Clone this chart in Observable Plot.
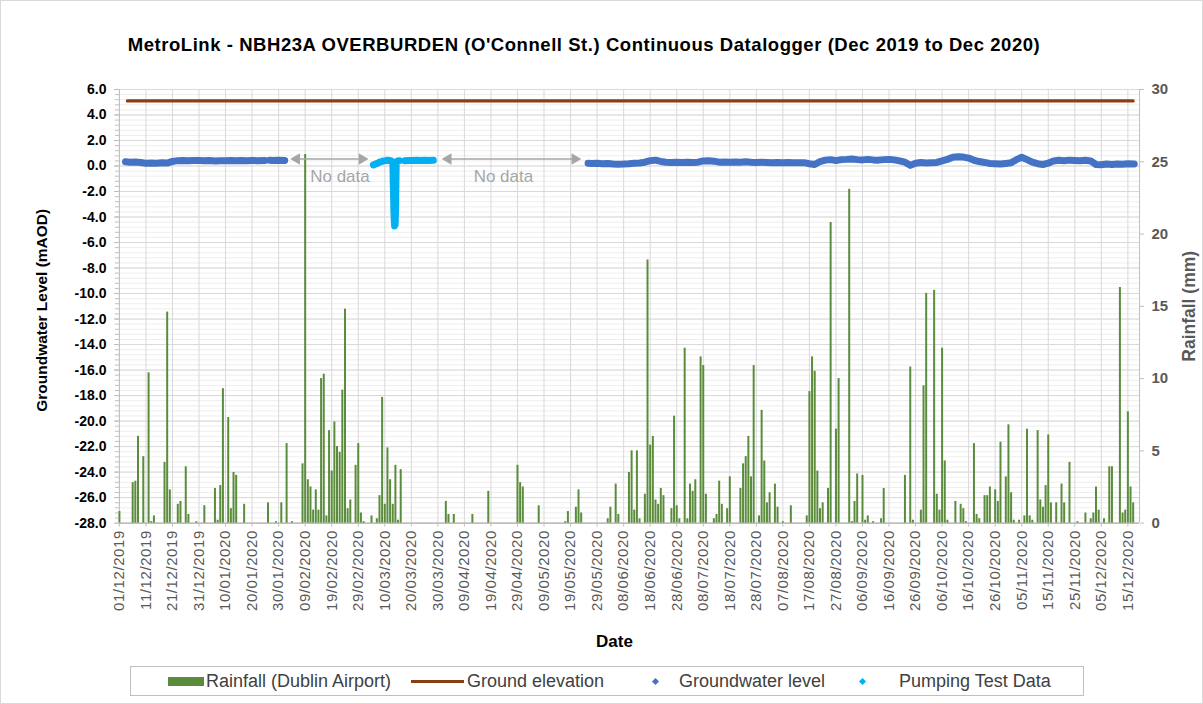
<!DOCTYPE html>
<html>
<head>
<meta charset="utf-8">
<script src="https://cdn.jsdelivr.net/npm/d3@7"></script>
<script src="https://cdn.jsdelivr.net/npm/@observablehq/plot@0.6"></script>
<style>
  body { margin: 0; background: #fff; font-family: "Liberation Sans", Arial, sans-serif; }
  #wrap { position: relative; width: 1201px; height: 702px; border: 1px solid #d9d9d9; overflow: hidden; background: #fff; }
  #title { position: absolute; left: 0; top: 33px; width: 1166px; text-align: center; font-weight: bold; font-size: 18.5px; letter-spacing: 0.55px; color: #000; white-space: nowrap; }
  #chart { position: absolute; left: -1px; top: 69px; }
  #legend { position: absolute; left: 129px; top: 665px; width: 952px; height: 28px; border: 1px solid #bfbfbf; font-size: 18px; color: #404040; }
  .li { position: absolute; top: 4px; white-space: nowrap; line-height: 20px; }
  .sw { position: absolute; }
  [aria-label="x-axis tick label"] text { letter-spacing: 0.6px; }
</style>
</head>
<body>
<div id="wrap">
  <div id="title">MetroLink - NBH23A OVERBURDEN (O'Connell St.) Continuous Datalogger (Dec 2019 to Dec 2020)</div>
  <div id="chart"></div>
  <div id="legend"></div>
</div>
<script>
// ---------------- DATA ----------------
// Day offsets are days since 01/12/2019
const startDate = "2019-12-01";

// X-axis tick labels (every 10 days)
const xTickLabels = ["01/12/2019","11/12/2019","21/12/2019","31/12/2019","10/01/2020","20/01/2020","30/01/2020",
  "09/02/2020","19/02/2020","29/02/2020","10/03/2020","20/03/2020","30/03/2020","09/04/2020","19/04/2020",
  "29/04/2020","09/05/2020","19/05/2020","29/05/2020","08/06/2020","18/06/2020","28/06/2020","08/07/2020",
  "18/07/2020","28/07/2020","07/08/2020","17/08/2020","27/08/2020","06/09/2020","16/09/2020","26/09/2020",
  "06/10/2020","16/10/2020","26/10/2020","05/11/2020","15/11/2020","25/11/2020","05/12/2020","15/12/2020"];

// Left axis ticks (Groundwater Level, mAOD) and right axis ticks (Rainfall, mm)
const levelTicks = [-28,-26,-24,-22,-20,-18,-16,-14,-12,-10,-8,-6,-4,-2,0,2,4,6];
const rainTicks = [0,5,10,15,20,25,30];

// Daily rainfall, Dublin Airport: [day offset, mm]
const rainfall = [
  [0,0.8],[5,2.8],[6,2.9],[7,6.0],[9,4.6],[11,10.4],[12,0.1],[13,0.5],[17,4.2],[18,14.6],[19,2.3],[22,1.3],[23,1.5],
  [25,3.9],[26,0.6],[29,0.1],[32,1.2],[36,2.4],[37,0.2],[38,2.6],[39,9.3],[41,7.3],[42,1.0],[43,3.5],[44,3.3],[47,1.3],
  [56,1.4],[59,0.1],[61,1.4],[63,5.5],[65,0.1],[69,4.1],[70,25.5],[71,3.0],[72,2.5],[73,0.9],[74,2.3],[75,0.9],
  [76,10.0],[77,10.3],[78,0.5],[79,6.4],[80,3.6],[81,7.0],[82,5.3],[83,4.9],[84,9.2],[85,14.8],[86,1.0],[87,1.6],
  [89,4.0],[90,5.5],[91,0.7],[92,0.1],[95,0.5],[97,0.3],[98,1.9],[99,8.7],[100,1.3],[101,5.2],[102,3.0],[103,1.3],
  [104,4.0],[105,0.2],[106,3.7],
  [123,1.5],[124,0.6],[126,0.6],[133,0.6],[139,2.2],[150,4.0],[151,2.8],[152,2.5],[158,1.2],
  [168,0.1],[169,0.8],[172,1.1],[173,2.3],[174,0.7],[184,0.3],[185,1.1],[187,2.7],[188,0.6],[192,3.5],[193,5.0],
  [194,0.9],[195,5.0],[196,0.3],[198,2.0],[199,18.2],[200,5.4],[201,6.0],[202,1.6],[203,1.3],[204,2.4],[205,1.9],
  [208,1.0],[209,7.4],[210,1.2],[211,0.3],[213,12.1],[214,0.3],[215,2.7],[216,2.2],[217,3.0],
  [219,11.5],[220,10.9],[221,2.0],[224,0.3],[225,0.6],[226,2.9],[227,1.3],[229,1.0],[230,3.2],[234,2.4],[235,4.1],
  [236,4.6],[237,6.0],[238,3.2],[239,10.9],[241,0.5],[242,7.8],[243,4.3],[244,1.4],[245,2.1],[247,2.7],[248,1.1],
  [250,0.1],[253,1.2],[259,0.5],[260,9.1],[261,11.5],[262,10.5],[263,3.6],[264,1.0],[265,1.4],[267,2.4],[268,20.8],
  [270,6.5],[271,10.0],
  [275,23.1],[276,0.1],[277,1.5],[278,3.4],[280,3.3],[281,0.2],[282,0.5],[284,0.1],[287,0.3],[288,2.4],[296,3.3],
  [298,10.8],[299,0.2],[302,0.9],[303,9.5],[304,15.9],[307,16.1],[308,2.0],[309,0.9],[310,12.1],[311,4.3],[312,0.2],
  [315,1.5],[317,1.3],[318,1.0],[319,0.1],[322,5.5],[323,0.6],[324,0.3],[326,1.9],
  [327,1.9],[328,2.5],[330,2.3],[331,1.5],[332,5.6],[334,3.2],[335,6.8],[336,2.1],[337,0.2],[339,0.2],[341,0.5],
  [342,6.5],[343,0.5],[344,0.2],[346,6.4],[347,1.6],[348,1.1],[349,2.6],[350,6.1],[351,1.4],[353,1.4],[355,2.7],
  [356,1.4],[358,4.2],[361,0.1],[364,0.7],[366,0.3],[367,0.7],[368,2.5],[369,0.9],[371,0.3],[373,3.9],[374,3.9],
  [377,16.3],[378,0.7],[379,0.9],[380,7.7],[381,2.5],[382,1.4]
];

// Ground elevation (mAOD) over the logger period
const groundElevation = 5.1;
const groundDays = [3, 382];

// Groundwater level (mAOD): [day offset, level], three logged stretches
const gwStretchA = [[2.3,0.33],[4,0.30],[6,0.32],[8,0.28],[10,0.22],[12,0.24],[14,0.22],[16,0.26],[18,0.23],[20,0.36],
  [22,0.42],[24,0.43],[26,0.42],[28,0.44],[30,0.43],[32,0.42],[34,0.44],[36,0.40],[38,0.42],[40,0.41],[42,0.43],
  [44,0.42],[46,0.44],[48,0.42],[50,0.43],[52,0.42],[54.8,0.44]];
const gwStretchB = [[56.6,0.45],[58,0.44],[60,0.45],[62.3,0.44]];
const gwStretchC = [[176.6,0.22],[178,0.20],[180,0.22],[182,0.18],[184,0.20],[186,0.16],[188,0.14],[190,0.15],
  [192,0.18],[194,0.22],[196,0.24],[198,0.30],[200,0.42],[202,0.46],[204,0.36],[206,0.30],[208,0.28],[210,0.30],
  [212,0.28],[214,0.30],[216,0.28],[218,0.30],[220,0.40],[222,0.42],[224,0.38],[226,0.30],[228,0.32],[230,0.30],
  [232,0.31],[234,0.30],[236,0.33],[238,0.30],[240,0.28],[242,0.30],[244,0.28],[246,0.26],[248,0.28],[250,0.26],
  [252,0.27],[254,0.26],[256,0.25],[258,0.26],[260,0.18],[262,0.12],[264,0.35],[266,0.46],[268,0.50],[270,0.42],
  [272,0.50],[274,0.52],[276,0.55],[278,0.50],[280,0.48],[282,0.52],[284,0.48],[286,0.46],[288,0.50],[290,0.52],
  [292,0.48],[294,0.40],[296,0.30],[298,0.05],[300,0.22],[302,0.28],[304,0.24],[306,0.26],[308,0.28],[310,0.40],
  [312,0.52],[314,0.68],[316,0.72],[318,0.70],[320,0.62],[322,0.45],[324,0.35],[326,0.28],[328,0.20],[330,0.18],
  [332,0.15],[334,0.20],[336,0.25],[338,0.50],[340,0.68],[342,0.50],[344,0.30],[346,0.18],[348,0.12],[350,0.22],
  [352,0.40],[354,0.45],[356,0.42],[358,0.46],[360,0.44],[362,0.42],[364,0.45],[366,0.40],[368,0.12],[370,0.10],
  [372,0.15],[374,0.12],[376,0.16],[378,0.14],[380,0.18],[382.4,0.16]];

// Pumping test data (mAOD): [day offset, level]
const pumpStretchA = [[95.7,0.08],[96.5,0.15],[97.3,0.22],[98,0.30],[98.8,0.35],[99.5,0.40],[100.3,0.42],[101,0.45],
  [101.8,0.43],[102.5,0.40],[103.0,0.30],[103.1,-0.3],[103.15,-0.9],[103.2,-1.5],[103.3,-2.1],[103.35,-2.7],
  [103.4,-3.3],[103.5,-3.9],[103.6,-4.4],[103.7,-4.7],[103.9,-4.6],[104.1,-3.0],[104.2,-1.0],[104.3,0.2],
  [104.8,0.40],[105.5,0.42]];
const pumpStretchB = [[107.6,0.42],[109,0.44],[110.5,0.43],[112,0.45],[113.5,0.44],[115,0.46],[116.5,0.44],[118.3,0.45]];

// "No data" annotations: [arrow start day, arrow end day, label start day]
const noDataGaps = [[65.6, 92.6, 71.9], [122.7, 172.8, 133.5]];

// ---------------- HELPERS ----------------
const [sy, sm, sd] = startDate.split("-").map(Number);
const day0 = Date.UTC(sy, sm - 1, sd);
const DAY = 864e5;
const toDate = d => new Date(day0 + d * DAY);
const parseLabel = s => { const [d, m, y] = s.split("/").map(Number); return new Date(Date.UTC(y, m - 1, d)); };
const toLevel = mm => -28 + mm * 34 / 30;           // rainfall (right axis) -> left axis units
const toRain = v => Math.round((v + 28) * 30 / 34);

const xTickDates = xTickLabels.map(parseLabel);
const labelOf = new Map(xTickLabels.map((s, i) => [+xTickDates[i], s]));
const minorTicks = d3.range(-28, 6.0001, 0.4).map(v => +v.toFixed(1));
const xDomain = [toDate(0), toDate(384.4)];

const seg = (arr, id) => arr.map(([d, v]) => ({date: toDate(d), v, id}));
const gw = [...seg(gwStretchA, "A"), ...seg(gwStretchB, "B"), ...seg(gwStretchC, "C")];
const pump = [...seg(pumpStretchA, "A"), ...seg(pumpStretchB, "B")];
const ground = groundDays.map(d => ({date: toDate(d), v: groundElevation}));
const arrowY = 0.55, noteY = -0.82;

const font = '"Liberation Sans", Arial, sans-serif';
const grey = "#a6a6a6";

const chart = Plot.plot({
  width: 1203, height: 590,
  marginLeft: 119, marginRight: 63, marginTop: 19, marginBottom: 137,
  style: {fontFamily: font, background: "transparent", overflow: "visible"},
  x: {type: "utc", domain: xDomain},
  y: {domain: [-28, 6]},
  marks: [
    Plot.ruleY(minorTicks, {stroke: "#eeeeee", strokeWidth: 1}),
    Plot.ruleY(levelTicks, {stroke: "#d9d9d9", strokeWidth: 1}),
    Plot.ruleX(xTickDates, {stroke: "#d9d9d9", strokeWidth: 1}),
    Plot.ruleX([xDomain[0]], {stroke: "#bfbfbf"}),
    Plot.ruleX([xDomain[1]], {stroke: "#bfbfbf"}),
    Plot.ruleY([-28], {stroke: "#a6a6a6"}),
    // rainfall bars
    Plot.ruleX(rainfall, {x: d => toDate(d[0]), y1: -28, y2: d => toLevel(d[1]), stroke: "#5a8c3c", strokeWidth: 2}),
    // ground elevation
    Plot.line(ground, {x: "date", y: "v", stroke: "#8a3f12", strokeWidth: 3.2}),
    // groundwater level
    Plot.line(gw, {x: "date", y: "v", z: "id", stroke: "#4472c4", strokeWidth: 7, strokeLinecap: "round", strokeLinejoin: "round"}),
    // pumping test
    Plot.line(pump, {x: "date", y: "v", z: "id", stroke: "#00b0f0", strokeWidth: 7, strokeLinecap: "round", strokeLinejoin: "round"}),
    // no-data annotations
    Plot.link(noDataGaps, {x1: d => toDate(d[0] + 1.3), x2: d => toDate(d[1] - 1.3), y1: arrowY, y2: arrowY, stroke: grey, strokeWidth: 1.5}),
    Plot.dot(noDataGaps, {x: d => toDate(d[0] + 1.2), y: arrowY, symbol: "triangle", r: 4.2, fill: grey, stroke: null, rotate: -90}),
    Plot.dot(noDataGaps, {x: d => toDate(d[1] - 1.2), y: arrowY, symbol: "triangle", r: 4.2, fill: grey, stroke: null, rotate: 90}),
    Plot.text(noDataGaps, {x: d => toDate(d[2]), y: noteY, text: () => "No data", textAnchor: "start", fill: grey, fontSize: 17}),
    // axes
    Plot.axisY({anchor: "left", ticks: minorTicks, tickFormat: () => "", tickSize: 4, stroke: "#bfbfbf", label: null}),
    Plot.axisY({anchor: "left", ticks: levelTicks, tickFormat: d => d.toFixed(1), tickSize: 5, tickPadding: 8,
      stroke: "#bfbfbf", fill: "#000", fontSize: 14, fontWeight: "bold", label: null}),
    Plot.axisY({anchor: "right", ticks: rainTicks.map(toLevel), tickFormat: v => String(toRain(v)), tickSize: 4, tickPadding: 8,
      stroke: "#bfbfbf", fill: "#595959", fontSize: 15, fontWeight: "bold", label: null}),
    Plot.axisX({ticks: xTickDates, tickFormat: d => labelOf.get(+d), tickRotate: -90, tickSize: 4, tickPadding: 3,
      stroke: "#bfbfbf", fill: "#595959", fontSize: 15, label: null}),
    Plot.text(["Date"], {frameAnchor: "bottom", dx: -15, dy: 124, text: d => d, fontWeight: "bold", fontSize: 17, fill: "#000"}),
    Plot.text(["Groundwater Level (mAOD)"], {frameAnchor: "left", dx: -77, dy: 4, text: d => d, rotate: -90, textAnchor: "middle",
      fontWeight: "bold", fontSize: 15.5, fill: "#000"}),
    Plot.text(["Rainfall (mm)"], {frameAnchor: "right", dx: 50, text: d => d, rotate: -90, textAnchor: "middle",
      fontWeight: "bold", fontSize: 17.5, fill: "#595959"})
  ]
});
document.getElementById("chart").appendChild(chart);

// ---------------- LEGEND ----------------
const legend = document.getElementById("legend");
const items = [
  {label: "Rainfall (Dublin Airport)", kind: "bar", color: "#5a8c3c", sx: 37, tx: 75},
  {label: "Ground elevation", kind: "line", color: "#8a3f12", sx: 280, tx: 336},
  {label: "Groundwater level", kind: "diamond", color: "#4472c4", sx: 522, tx: 548},
  {label: "Pumping Test Data", kind: "diamond", color: "#00b0f0", sx: 729, tx: 768}
];
for (const it of items) {
  const sw = document.createElement("div");
  sw.className = "sw";
  if (it.kind === "bar") Object.assign(sw.style, {left: it.sx + "px", top: "10px", width: "36px", height: "9px", background: it.color});
  else if (it.kind === "line") Object.assign(sw.style, {left: it.sx + "px", top: "13px", width: "53px", height: "3px", background: it.color});
  else Object.assign(sw.style, {left: it.sx + "px", top: "12px", width: "5px", height: "5px", background: it.color, transform: "rotate(45deg)"});
  legend.appendChild(sw);
  const t = document.createElement("div");
  t.className = "li";
  t.style.left = it.tx + "px";
  t.textContent = it.label;
  legend.appendChild(t);
}
</script>
</body>
</html>
